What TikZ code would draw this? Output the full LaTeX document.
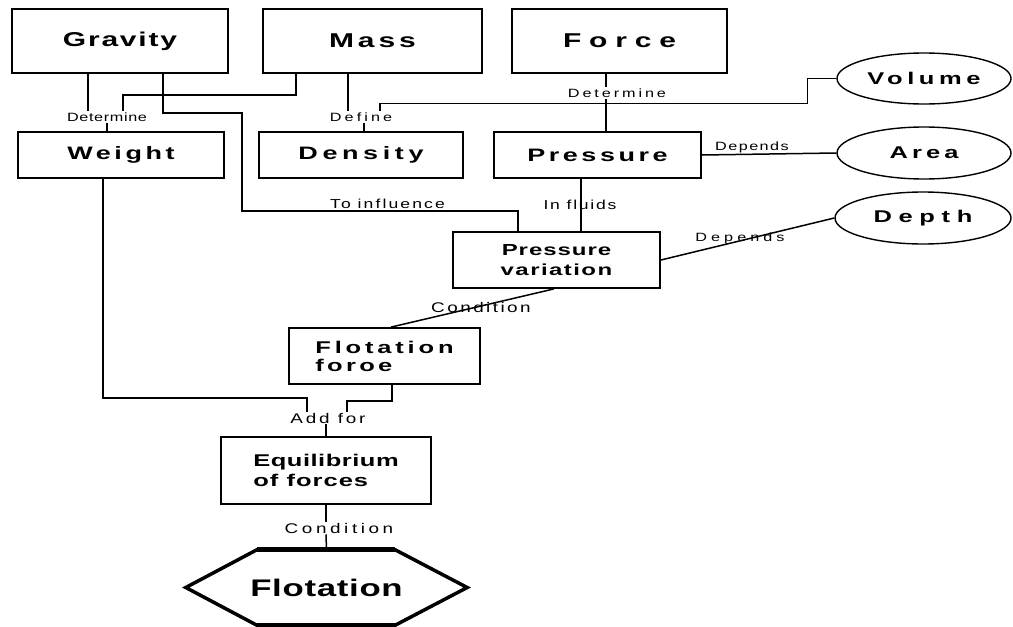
\documentclass[tikz,border=0pt]{standalone}
\usepackage{fontspec}
\setmainfont{Liberation Sans}
\usetikzlibrary{calc,shapes.geometric}
\newcommand\btx[4]{\scalebox{#2}[1]{\fontsize{#1}{#1}\selectfont\bfseries\addfontfeatures{LetterSpace=#3}#4}}
\newcommand\rtx[4]{\scalebox{#2}[1]{\fontsize{#1}{#1}\selectfont\addfontfeatures{LetterSpace=#3}#4}}
\begin{document}
\begin{tikzpicture}[x=1pt,y=-1pt,
 box/.style={draw,line width=1.8pt,rectangle,inner sep=0pt},
 oval/.style={draw,line width=1.4pt,ellipse,inner sep=0pt},
 lbl/.style={inner sep=1pt},
 conn/.style={line width=1.5pt}]
\useasboundingbox[fill=white] (0,0) rectangle (1013,627);
% boxes
\node[box,minimum width=216pt,minimum height=64pt] (grav) at (120,41) {\btx{20}{1.5}{6}{Gravity}};
\node[box,minimum width=219pt,minimum height=64pt] (mass) at (372.5,41) {\btx{20}{1.5}{13}{Mass}};
\node[box,minimum width=215pt,minimum height=64pt] (force) at (619.5,41) {\btx{20}{1.5}{26}{Force}};
\node[box,minimum width=206pt,minimum height=46pt] (weight) at (121,155) {\btx{18}{1.5}{13}{Weight}};
\node[box,minimum width=204pt,minimum height=46pt] (dens) at (361,155) {\btx{18}{1.5}{17}{Density}};
\node[box,minimum width=207pt,minimum height=46pt] (press) at (597.5,155) {\btx{18}{1.5}{13}{Pressure}};
\node[oval,minimum width=174pt,minimum height=51pt] (vol) at (924,78.5) {\btx{17}{1.5}{18}{Volume}};
\node[oval,minimum width=174pt,minimum height=52pt] (area) at (924,153) {\btx{17}{1.5}{16}{Area}};
\node[oval,minimum width=176pt,minimum height=52pt] (depth) at (923,218) {\btx{17}{1.5}{26}{Depth}};
\node[box,minimum width=207pt,minimum height=56pt,align=center,font=\fontsize{16}{20}\selectfont] (pv) at (556.5,260)
  {\btx{16}{1.5}{4}{Pressure}\\\btx{16}{1.5}{6}{variation}};
\node[box,minimum width=191pt,minimum height=56pt,align=left,font=\fontsize{17}{18}\selectfont] (ff) at (384.5,356)
  {\btx{17}{1.5}{15}{Flotation}\\\btx{17}{1.5}{13}{foroe}};
\node[box,minimum width=210pt,minimum height=67pt,align=left,font=\fontsize{17}{20}\selectfont] (eq) at (326,470.5)
  {\btx{17}{1.5}{2}{Equilibrium}\\\btx{17}{1.5}{4}{of forces}};
\node[minimum width=281pt,minimum height=75pt,inner sep=0pt] (flot) at (326.5,587.5) {\btx{24}{1.45}{2}{Flotation}};
\draw[line width=3.5pt,line join=miter] (flot.west) -- ([xshift=71pt]flot.north west) -- ([xshift=-72pt]flot.north east)
  -- (flot.east) -- ([xshift=-72pt]flot.south east) -- ([xshift=71pt]flot.south west) -- cycle;
\draw[line width=5pt] ([xshift=71pt]flot.north west) -- ([xshift=-72pt]flot.north east);
\draw[line width=5pt] ([xshift=-72pt]flot.south east) -- ([xshift=71pt]flot.south west);
% labels
\node[lbl] (det1) at (107,117) {\rtx{12}{1.35}{4}{Determine}};
\node[lbl] (def) at (361,117) {\rtx{12}{1.35}{19}{Define}};
\node[lbl] (det2) at (617,93) {\rtx{12}{1.35}{18}{Determine}};
\node[lbl] (dep1) at (752,147) {\rtx{12}{1.35}{9}{Depends}};
\node[lbl] (toinf) at (387.5,204) {\rtx{13}{1.35}{12}{To influence}};
\node[lbl] (infl) at (580,205) {\rtx{13}{1.35}{10}{In fluids}};
\node[lbl] (dep2) at (740,238) {\rtx{12}{1.35}{25}{Depends}};
\node[lbl] (cond1) at (481,307) {\rtx{14}{1.35}{13}{Condition}};
\node[lbl] (addfor) at (328,418) {\rtx{14}{1.35}{15}{Add for}};
\node[lbl] (cond2) at (339,528) {\rtx{14}{1.35}{19}{Condition}};
% connectors
\draw[conn] ([xshift=-32pt]grav.south) -- ([xshift=-32pt]grav.south |- det1.north);
\draw[conn] ([xshift=-76.5pt]mass.south) -- ++(0,21) -| ([xshift=16pt]det1.north);
\draw[conn] (det1.south) -- (det1.south |- weight.north);
\draw[conn] ([xshift=43pt]grav.south) -- ++(0,39) -| ++(79,98) -| ([xshift=-38.5pt]pv.north);
\draw[conn] ([xshift=-24.5pt]mass.south) -- ([xshift=-24.5pt]mass.south |- def.north);
\draw[conn] ([xshift=3pt]def.south) -- ([xshift=3pt]def.south |- dens.north);
\draw[conn] (vol.west) -| ++(-29,25) -| ([xshift=19pt]def.north);
\draw[conn] ([xshift=-13.5pt]force.south) -- ([xshift=-13.5pt]force.south |- det2.north);
\draw[conn] ([xshift=-13.5pt]force.south |- det2.south) -- ([xshift=-13.5pt]force.south |- press.north);
\draw[conn] (press.east) -- (area.west);
\draw[conn] ([xshift=-16.5pt]press.south) -- ([xshift=-16.5pt]press.south |- pv.north);
\draw[conn] (pv.east) -- (depth.west);
\draw[conn] ([xshift=-2.5pt]pv.south) -- ([xshift=6.5pt]ff.north);
\draw[conn] ([xshift=-18pt]weight.south) -- ++(0,219) -| ([xshift=-21pt]addfor.north);
\draw[conn] ([xshift=7.5pt]ff.south) -- ++(0,16) -| ([xshift=19pt]addfor.north);
\draw[conn] (addfor.south -| eq.north) -- (eq.north);
\draw[conn] (eq.south) -- (eq.south |- cond2.north);
\draw[conn] (eq.south |- cond2.south) -- (flot.north);
\end{tikzpicture}
\end{document}
